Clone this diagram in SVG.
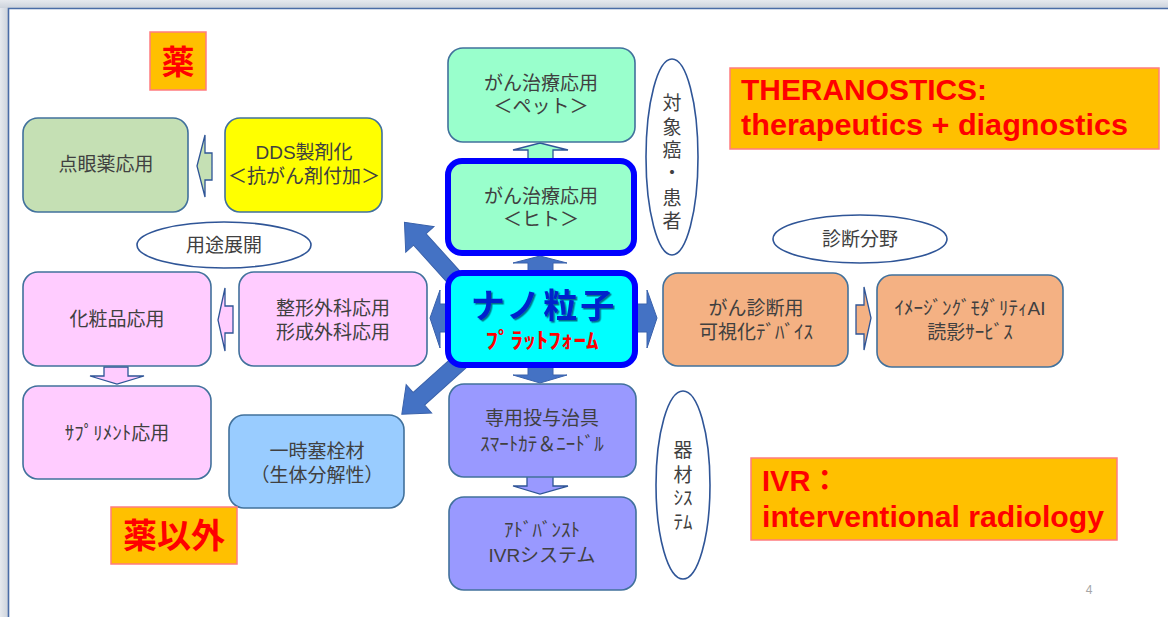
<svg xmlns="http://www.w3.org/2000/svg" width="1168" height="617" viewBox="0 0 1168 617">
<defs>
<style>
.t{font-family:"Liberation Sans","Noto Sans CJK JP",sans-serif;font-size:19px;fill:#404040;text-anchor:middle}
.box{stroke:#41719C;stroke-width:1.6}
.thick{stroke:#0000FF;stroke-width:6}
.ell{fill:#FFFFFF;stroke:#2F5597;stroke-width:1.6}
.call{fill:#FFC000;stroke:#FF7C80;stroke-width:1.5}
.ct{font-family:"Liberation Sans","Noto Sans CJK JP",sans-serif;font-weight:700;fill:#FF0000}
.hollow{stroke:#2F5597;stroke-width:1.3;stroke-linejoin:miter}
.solid{fill:#4472C4;stroke:#3A62AB;stroke-width:1}
</style>
<filter id="sh" x="-10%" y="-10%" width="130%" height="140%">
<feDropShadow dx="1.5" dy="1.5" stdDeviation="0.6" flood-color="#000033" flood-opacity="0.55"/>
</filter>
<linearGradient id="edge" x1="0" y1="0" x2="1" y2="0">
<stop offset="0" stop-color="#E6E9EE"/><stop offset="1" stop-color="#CDD3DC"/>
</linearGradient>
<linearGradient id="edgeT" x1="0" y1="0" x2="0" y2="1">
<stop offset="0" stop-color="#E6E9EE"/><stop offset="1" stop-color="#CDD3DC"/>
</linearGradient>
</defs>

<rect x="0" y="0" width="1168" height="617" fill="#FFFFFF"/>
<rect x="0" y="0" width="8" height="617" fill="url(#edge)"/>
<rect x="0" y="0" width="1168" height="8" fill="url(#edgeT)"/>
<path d="M8.5,617 V8.5 H1168" fill="none" stroke="#4A6CA6" stroke-width="1.6"/>

<g id="connectors">
  <polygon class="hollow" fill="#C5E0B4" points="197,166 205,135 205,153 212,153 212,180 205,180 205,197"/>
  <polygon class="hollow" fill="#FFCCFF" points="218,320 225,288 225,306 233,306 233,333 225,333 225,351"/>
  <polygon class="hollow" fill="#FFCCFF" points="104,367 128,367 128,376 144,376 117,384 90,376 104,376"/>
  <polygon class="hollow" fill="#99FFCC" points="540,143 568,150 553,150 553,162 528,162 528,150 513,150"/>
  <polygon class="hollow" fill="#F4B183" points="856,305 864,305 864,287 871,318 864,350 864,334 856,334"/>
  <polygon class="hollow" fill="#9999FF" points="527,476 553,476 553,486 568,486 540,494 513,486 527,486"/>
  <polygon class="solid" points="540,256 567,263 553,263 553,275 528,275 528,263 513,263"/>
  <polygon class="solid" points="528,363 553,363 553,375 567,375 540,383 513,375 528,375"/>
  <polygon class="solid" points="430,318 440,290 440,304 452,304 452,332 440,332 440,348"/>
  <polygon class="solid" points="632,304 647,304 647,290 657,318 647,348 647,332 632,332"/>
  <polygon class="solid" transform="translate(460,284) rotate(-132)" points="0,-8.5 60,-8.5 60,-19 83,0 60,19 60,8.5 0,8.5"/>
  <polygon class="solid" transform="translate(462,360) rotate(138)" points="0,-8.5 58,-8.5 58,-19 81,0 58,19 58,8.5 0,8.5"/>
</g>

<g id="label-kusuri">
  <rect class="call" x="150" y="32" width="56" height="58"/>
  <text class="ct" x="178" y="74" font-size="33" text-anchor="middle">薬</text>
</g>

<g id="node-tengan">
  <rect class="box" x="23" y="118" width="165" height="94" rx="15" fill="#C5E0B4"/>
  <text class="t" x="106" y="171">点眼薬応用</text>
</g>

<g id="node-dds">
  <rect class="box" x="225" y="118" width="157" height="94" rx="15" fill="#FFFF00"/>
  <text class="t" x="304" y="159">DDS製剤化</text>
  <text class="t" x="304" y="183">＜抗がん剤付加＞</text>
</g>

<g id="node-pet">
  <rect class="box" x="448" y="48" width="187" height="94" rx="15" fill="#99FFCC"/>
  <text class="t" x="541" y="90">がん治療応用</text>
  <text class="t" x="541" y="113">＜ペット＞</text>
</g>

<g id="node-hito">
  <rect class="thick" x="448" y="161" width="186" height="92" rx="14" fill="#99FFCC"/>
  <text class="t" x="541" y="203">がん治療応用</text>
  <text class="t" x="541" y="226">＜ヒト＞</text>
</g>

<g id="ellipse-taisho">
  <ellipse class="ell" cx="672" cy="157" rx="26" ry="98"/>
  <text class="t" x="672" y="110">対</text>
  <text class="t" x="672" y="134">象</text>
  <text class="t" x="672" y="157">癌</text>
  <text class="t" x="672" y="180">・</text>
  <text class="t" x="672" y="205">患</text>
  <text class="t" x="672" y="228">者</text>
</g>

<g id="label-theranostics">
  <rect class="call" x="730" y="68" width="429" height="81"/>
  <text class="ct" x="741" y="100" font-size="30" textLength="246" lengthAdjust="spacingAndGlyphs">THERANOSTICS:</text>
  <text class="ct" x="741" y="135" font-size="30" textLength="387" lengthAdjust="spacingAndGlyphs">therapeutics + diagnostics</text>
</g>

<g id="ellipse-yoto">
  <ellipse class="ell" cx="224" cy="245" rx="87" ry="23"/>
  <text class="t" x="224" y="252">用途展開</text>
</g>

<g id="node-kesho">
  <rect class="box" x="23" y="272" width="188" height="94" rx="15" fill="#FFCCFF"/>
  <text class="t" x="117" y="326">化粧品応用</text>
</g>

<g id="node-seikei">
  <rect class="box" x="239" y="272" width="188" height="94" rx="15" fill="#FFCCFF"/>
  <text class="t" x="333" y="315">整形外科応用</text>
  <text class="t" x="333" y="339">形成外科応用</text>
</g>

<g id="node-supplement">
  <rect class="box" x="23" y="386" width="188" height="93" rx="15" fill="#FFCCFF"/>
  <text class="t" x="117" y="440">ｻﾌﾟﾘﾒﾝﾄ応用</text>
</g>

<g id="node-sokusen">
  <rect class="box" x="229" y="415" width="175" height="93" rx="15" fill="#99CCFF"/>
  <text class="t" x="317" y="458">一時塞栓材</text>
  <text class="t" x="317" y="482">（生体分解性）</text>
</g>

<g id="label-kusuri-igai">
  <rect class="call" x="111" y="507" width="126" height="57"/>
  <text class="ct" x="174" y="548" font-size="34" text-anchor="middle">薬以外</text>
</g>

<g id="node-nano">
  <rect class="thick" x="448" y="273" width="187" height="92" rx="14" fill="#00FFFF"/>
  <text x="544" y="318" font-family="'Liberation Sans','Noto Sans CJK JP',sans-serif" font-weight="700" font-size="34" letter-spacing="3" fill="#0022CC" text-anchor="middle" filter="url(#sh)">ナノ粒子</text>
  <text x="542" y="348" font-family="'Liberation Sans','Noto Sans CJK JP',sans-serif" font-weight="700" font-size="22" fill="#FF0000" text-anchor="middle" textLength="113" lengthAdjust="spacingAndGlyphs">ﾌﾟﾗｯﾄﾌｫｰﾑ</text>
</g>

<g id="ellipse-shindan">
  <ellipse class="ell" cx="860" cy="239" rx="87" ry="24"/>
  <text class="t" x="860" y="246">診断分野</text>
</g>

<g id="node-gan-shindan">
  <rect class="box" x="663" y="273" width="185" height="93" rx="15" fill="#F4B183"/>
  <text class="t" x="756" y="315">がん診断用</text>
  <text class="t" x="756" y="339">可視化ﾃﾞﾊﾞｲｽ</text>
</g>

<g id="node-imaging">
  <rect class="box" x="877" y="275" width="186" height="92" rx="15" fill="#F4B183"/>
  <text class="t" x="970" y="315">ｲﾒｰｼﾞﾝｸﾞﾓﾀﾞﾘﾃｨAI</text>
  <text class="t" x="970" y="339">読影ｻｰﾋﾞｽ</text>
</g>

<g id="node-senyo">
  <rect class="box" x="449" y="384" width="187" height="93" rx="15" fill="#9999FF"/>
  <text class="t" x="542" y="425">専用投与治具</text>
  <text class="t" x="542" y="451">ｽﾏｰﾄｶﾃ＆ﾆｰﾄﾞﾙ</text>
</g>

<g id="node-advanced">
  <rect class="box" x="449" y="497" width="187" height="93" rx="15" fill="#9999FF"/>
  <text class="t" x="542" y="537">ｱﾄﾞﾊﾞﾝｽﾄ</text>
  <text class="t" x="542" y="562">IVRシステム</text>
</g>

<g id="ellipse-kizai">
  <ellipse class="ell" cx="683" cy="485" rx="27" ry="94"/>
  <text class="t" x="683" y="457">器</text>
  <text class="t" x="683" y="482">材</text>
  <text class="t" x="683" y="505">ｼｽ</text>
  <text class="t" x="683" y="529">ﾃﾑ</text>
</g>

<g id="label-ivr">
  <rect class="call" x="751" y="458" width="366" height="82"/>
  <text class="ct" x="762" y="491" font-size="29">IVR：</text>
  <text class="ct" x="762" y="527" font-size="29" textLength="342" lengthAdjust="spacingAndGlyphs">interventional radiology</text>
</g>

<text x="1089" y="594" font-family="'Liberation Sans',sans-serif" font-size="12" fill="#A6A6A6" text-anchor="middle">4</text>
</svg>
